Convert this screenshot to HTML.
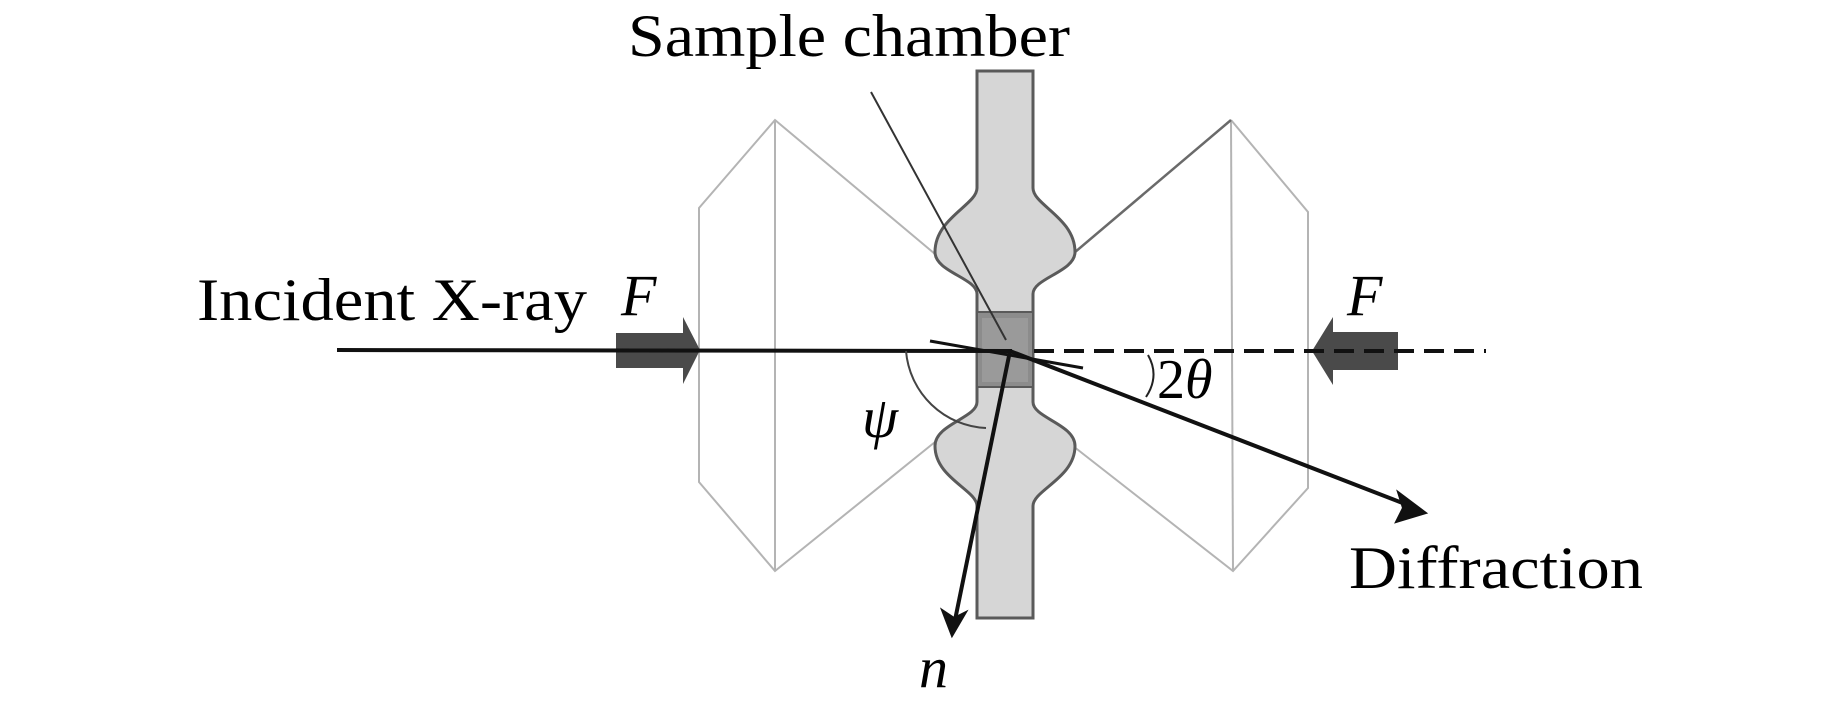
<!DOCTYPE html>
<html><head><meta charset="utf-8"><style>
html,body{margin:0;padding:0;background:#fff;}
svg{display:block;}
text{font-family:"Liberation Serif",serif;fill:#000;}
</style></head><body>
<svg width="1843" height="709" viewBox="0 0 1843 709" xmlns="http://www.w3.org/2000/svg">
<g stroke="#b4b4b4" stroke-width="2" fill="none">
<polyline points="935,254 775,120 699,208 699,482 775,571 935,442"/>
<line x1="775" y1="120" x2="775" y2="571"/>
<polyline points="1073,446 1233,571 1308,488 1308,212 1231,120"/>
<line x1="1231" y1="120" x2="1233" y2="571"/>
</g>
<line x1="1231" y1="120" x2="1035" y2="286" stroke="#6a6a6a" stroke-width="2.5"/>
<path d="M977,71 L1033,71 L1033,188 C1033,205 1075,218 1075,252 C1075,272 1033,278 1033,294 L1033,402 C1033,418 1075,424 1075,446 C1075,478 1033,490 1033,506 L1033,618 L977,618 L977,506 C977,490 935,478 935,446 C935,424 977,418 977,402 L977,294 C977,278 935,272 935,252 C935,218 977,205 977,188 Z" fill="#d6d6d6" stroke="#5a5a5a" stroke-width="3"/>
<rect x="977" y="312" width="56" height="75" fill="#8c8c8c" stroke="#5a5a5a" stroke-width="2"/>
<rect x="982" y="318" width="46" height="64" fill="#9a9a9a"/>
<path d="M616,333 L683,333 L683,317 L700,350 L683,384 L683,368 L616,368 Z" fill="#4a4a4a"/>
<path d="M1398,332 L1333,332 L1333,317 L1312,351 L1333,385 L1333,370 L1398,370 Z" fill="#4a4a4a"/>
<line x1="337" y1="350" x2="1012" y2="351" stroke="#111" stroke-width="4"/>
<line x1="1034" y1="351" x2="1486" y2="351" stroke="#111" stroke-width="4" stroke-dasharray="20,10"/>
<line x1="871" y1="92" x2="1006" y2="340" stroke="#333" stroke-width="2"/>
<line x1="930" y1="341" x2="1083" y2="368" stroke="#111" stroke-width="3"/>
<line x1="1010" y1="351" x2="1418" y2="509" stroke="#111" stroke-width="4"/>
<path d="M1426,513 L1398,492 L1403,508 L1396,522 Z" fill="#111" stroke="#111" stroke-width="2"/>
<line x1="1010" y1="351" x2="954" y2="625" stroke="#111" stroke-width="4"/>
<path d="M952,636 L942,610 L954,618 L966,612 Z" fill="#111" stroke="#111" stroke-width="2"/>
<path d="M906,351 A84,84 0 0 0 986,428" stroke="#444" stroke-width="2" fill="none"/>
<path d="M1148,355 Q1160,376 1146,397" stroke="#222" stroke-width="2" fill="none"/>
<text x="628" y="56" font-size="60" textLength="442" lengthAdjust="spacingAndGlyphs">Sample chamber</text>
<text x="197" y="320" font-size="60" textLength="390" lengthAdjust="spacingAndGlyphs">Incident X-ray</text>
<text x="621" y="315" font-size="58" font-style="italic">F</text>
<text x="1347" y="315" font-size="58" font-style="italic">F</text>
<text x="862" y="437" font-size="58" font-style="italic">ψ</text>
<text x="1157" y="398" font-size="56">2<tspan font-style="italic">θ</tspan></text>
<text x="1349" y="588" font-size="60" textLength="294" lengthAdjust="spacingAndGlyphs">Diffraction</text>
<text x="919" y="687" font-size="58" font-style="italic">n</text>
</svg>
</body></html>
